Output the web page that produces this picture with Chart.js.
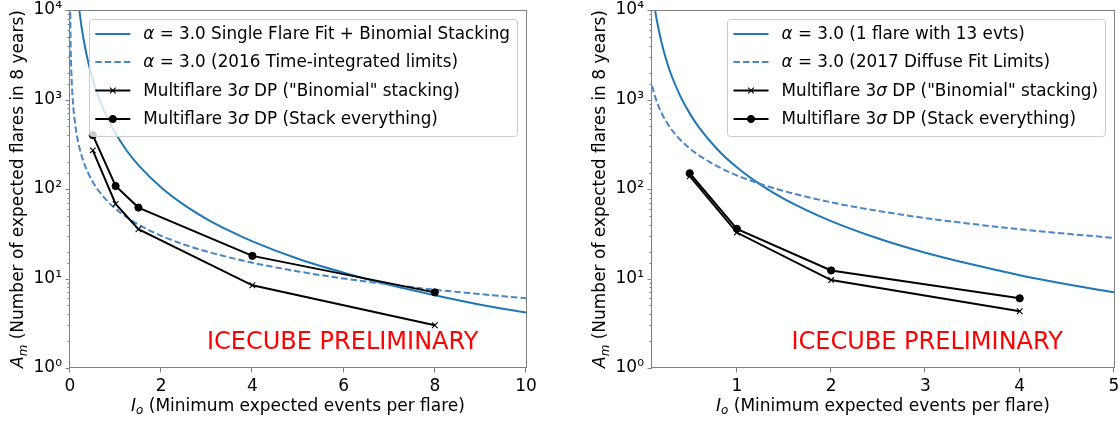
<!DOCTYPE html>
<html>
<head>
<meta charset="utf-8">
<script src="https://cdn.jsdelivr.net/npm/chart.js@4.4.0/dist/chart.umd.min.js"></script>
<style>
  html, body { margin: 0; padding: 0; background: #fff; }
  .panel { position: absolute; top: 0; width: 560px; height: 421px; }
  #left  { left: 0; }
  #right { left: 560px; }
</style>
</head>
<body>
<div class="panel" id="left"><canvas id="cl" width="560" height="421"></canvas></div>
<div class="panel" id="right"><canvas id="cr" width="560" height="421"></canvas></div>
<script>
const FONT = '"DejaVu Sans", sans-serif'

// shared y axis (log)
const yMajorValues = [1, 10, 100, 1000, 10000]
const yMajorLabels = ['10⁰', '10¹', '10²', '10³', '10⁴']

const yTitle = [{ t: 'A', it: 1 }, { t: 'm', it: 1, sub: 1 }, { t: ' (Number of expected flares in 8 years)' }]
const xTitle = [{ t: 'I', it: 1 }, { t: 'o', it: 1, sub: 1 }, { t: ' (Minimum expected events per flare)' }]
const watermark = 'ICECUBE PRELIMINARY'

// ---- left panel ----
const leftXTicks = [0, 2, 4, 6, 8, 10]
const leftLabels = [
  'α = 3.0 Single Flare Fit + Binomial Stacking',
  'α = 3.0 (2016 Time-integrated limits)',
  'Multiflare 3σ DP ("Binomial" stacking)',
  'Multiflare 3σ DP (Stack everything)'
]
const leftFitX = [0.2, 0.25, 0.3, 0.4, 0.5, 0.6, 0.7, 0.8, 1, 1.25, 1.5, 2, 2.5, 3, 3.5, 4, 5, 6, 7, 8, 9, 10]
const leftFitY = [10400, 6660, 4620, 2600, 1660, 1160, 850, 650, 416, 266, 185, 104, 66.5, 46.2, 34, 26, 16.6, 11.6, 8.5, 6.5, 5.1, 4.16]
const leftTiX  = [0.005, 0.01, 0.02, 0.03, 0.05, 0.075, 0.1, 0.15, 0.2, 0.3, 0.4, 0.5, 0.6, 0.8, 1, 1.25, 1.5, 2, 2.5, 3, 4, 5, 6, 7, 8, 9, 10]
const leftTiY  = [12000, 6000, 3000, 2000, 1200, 800, 600, 400, 300, 200, 150, 120, 100, 75, 60, 48, 40, 30, 24, 20, 15, 12, 10, 8.6, 7.5, 6.7, 6.0]
const leftDpX    = [0.5, 1, 1.5, 4, 8]
const leftBinomY = [270, 68, 35.5, 8.4, 3.0]
const leftStackY = [400, 108, 62, 17.9, 7.0]

// ---- right panel ----
const rightXTicks = [1, 2, 3, 4, 5]
const rightLabels = [
  'α = 3.0 (1 flare with 13 evts)',
  'α = 3.0 (2017 Diffuse Fit Limits)',
  'Multiflare 3σ DP ("Binomial" stacking)',
  'Multiflare 3σ DP (Stack everything)'
]
const rightOneX  = [0.13, 0.15, 0.2, 0.25, 0.3, 0.4, 0.5, 0.6, 0.8, 1, 1.25, 1.5, 2, 2.5, 3, 3.5, 4, 4.5, 5]
const rightOneY  = [10400, 7780, 4380, 2800, 1940, 1090, 700, 486, 273, 175, 112, 77.8, 43.8, 28, 19.4, 14.3, 10.9, 8.64, 7.0]
const rightDiffX = [0.1, 0.15, 0.2, 0.3, 0.4, 0.5, 0.6, 0.8, 1, 1.25, 1.5, 2, 2.5, 3, 3.5, 4, 4.5, 5]
const rightDiffY = [1420, 947, 710, 473, 355, 284, 237, 178, 142, 114, 94.7, 71, 56.8, 47.3, 40.6, 35.5, 31.6, 28.4]
const rightDpX    = [0.5, 1, 2, 4]
const rightBinomY = [139, 32.6, 9.6, 4.3]
const rightStackY = [150, 35.9, 12.3, 6.0]

const BLUE = '#1f77b4'
const BLUE_DASH = '#4a86c2'
const SPINE = '#808080'

const pts = (xs, ys) => xs.map((x, i) => ({ x, y: ys[i] }))
const isMajor = v => yMajorValues.some(m => Math.abs(v - m) / m < 1e-6)

// draw text, Greek letters in italic (like mathtext)
function richText(ctx, text, x, y, size, draw) {
  let cx = x
  for (const part of text.split(/([ασ])/)) {
    if (!part) continue
    ctx.font = (part === 'α' || part === 'σ' ? 'italic ' : '') + size + 'px ' + FONT
    if (draw) ctx.fillText(part, cx, y)
    cx += ctx.measureText(part).width
  }
  return cx - x
}

function segText(ctx, segs, x, y, size, draw) {
  let cx = x
  for (const s of segs) {
    const fs = s.sub ? size * 0.7 : size
    ctx.font = (s.it ? 'italic ' : '') + fs + 'px ' + FONT
    if (draw) ctx.fillText(s.t, cx, y + (s.sub ? size * 0.22 : 0))
    cx += ctx.measureText(s.t).width
  }
  return cx - x
}

const mplPlugin = {
  id: 'mpl',
  afterDatasetsDraw(chart, args, o) {
    const ctx = chart.ctx, a = chart.chartArea
    const xs = chart.scales.x, ys = chart.scales.y
    ctx.save()

    // watermark
    ctx.fillStyle = '#ff0000'
    ctx.font = '24px ' + FONT
    ctx.textAlign = 'left'
    ctx.textBaseline = 'alphabetic'
    ctx.fillText(watermark, a.left + o.markX, a.top + o.markY)

    // spines + tick marks
    ctx.strokeStyle = SPINE
    ctx.lineWidth = 1
    ctx.strokeRect(Math.round(a.left) - 0.5, Math.round(a.top) + 0.5, Math.round(a.width) + 1, Math.round(a.height) - 1)
    ctx.beginPath()
    for (const t of ys.ticks) {
      const p = Math.round(ys.getPixelForValue(t.value)) + 0.5
      const len = isMajor(t.value) ? 4.5 : 2.5
      ctx.moveTo(a.left - len, p); ctx.lineTo(a.left, p)
    }
    for (const t of xs.ticks) {
      const p = Math.round(xs.getPixelForValue(t.value)) - 0.5
      ctx.moveTo(p, a.bottom); ctx.lineTo(p, a.bottom + 4.5)
    }
    ctx.stroke()

    // legend (upper right, matplotlib style)
    const fs = 16.8
    const dss = chart.data.datasets
    let maxW = 0
    for (const ds of dss) maxW = Math.max(maxW, richText(ctx, ds.label, 0, 0, fs, false))
    const textX = 54.5
    const w = textX + maxW + 7
    const h = 117
    const bx = a.right - 9 - w, by = a.top + 9
    ctx.fillStyle = 'rgba(255,255,255,0.8)'
    ctx.strokeStyle = '#cccccc'
    ctx.beginPath()
    ctx.roundRect(Math.round(bx) + 0.5, Math.round(by) + 0.5, Math.round(w), h, 3)
    ctx.fill(); ctx.stroke()
    const rowY = [15, 43, 71.5, 100]
    dss.forEach((ds, i) => {
      const y = by + rowY[i]
      const sx = bx + 6.5
      ctx.strokeStyle = ds.borderColor
      ctx.lineWidth = ds.borderWidth
      ctx.setLineDash(ds.borderDash || [])
      ctx.beginPath(); ctx.moveTo(sx, y); ctx.lineTo(sx + 35, y); ctx.stroke()
      ctx.setLineDash([])
      if (ds.pointRadius > 0) {
        ctx.fillStyle = ds.pointBackgroundColor
        ctx.strokeStyle = ds.pointBorderColor
        ctx.lineWidth = ds.pointBorderWidth
        Chart.helpers.drawPoint(ctx, { pointStyle: ds.pointStyle, radius: ds.pointRadius, borderWidth: ds.pointBorderWidth, rotation: 0 }, sx + 17.5, y)
      }
      ctx.fillStyle = '#000'
      ctx.textBaseline = 'middle'
      richText(ctx, ds.label, bx + textX, y + 1, fs, true)
    })

    // axis titles
    const ts = 17
    ctx.fillStyle = '#000'
    ctx.textBaseline = 'alphabetic'
    const xw = segText(ctx, xTitle, 0, 0, ts, false)
    segText(ctx, xTitle, (a.left + a.right) / 2 - xw / 2, a.bottom + 42.5, ts, true)
    const yw = segText(ctx, yTitle, 0, 0, ts, false)
    ctx.translate(a.left - 47, (a.top + a.bottom) / 2)
    ctx.rotate(-Math.PI / 2)
    segText(ctx, yTitle, -yw / 2, 0, ts, true)
    ctx.restore()
  }
}

function makeChart(id, p) {
  const datasets = [
    { label: p.labels[0], data: pts(p.fitX, p.fitY), borderColor: BLUE, borderWidth: 2, pointRadius: 0,
      cubicInterpolationMode: 'monotone', order: 4 },
    { label: p.labels[1], data: pts(p.dashX, p.dashY), borderColor: BLUE_DASH, borderWidth: 2, borderDash: [6.5, 3],
      pointRadius: 0, cubicInterpolationMode: 'monotone', order: 3 },
    { label: p.labels[2], data: pts(p.dpX, p.binomY), borderColor: '#000', borderWidth: 2, tension: 0,
      pointStyle: 'crossRot', pointRadius: 4, pointBorderWidth: 1.1, pointBorderColor: '#000', pointBackgroundColor: '#000', order: 2 },
    { label: p.labels[3], data: pts(p.dpX, p.stackY), borderColor: '#000', borderWidth: 2, tension: 0,
      pointStyle: 'circle', pointRadius: 3.6, pointBorderWidth: 1, pointBorderColor: '#000', pointBackgroundColor: '#000', order: 1 }
  ]
  return new Chart(document.getElementById(id), {
    type: 'line',
    data: { datasets },
    plugins: [mplPlugin],
    options: {
      responsive: false, animation: false, devicePixelRatio: 1,
      layout: { padding: { top: 10, right: p.padRight, left: 0, bottom: 0 } },
      plugins: {
        legend: { display: false },
        tooltip: { enabled: false },
        mpl: { markX: p.markX, markY: 339 }
      },
      scales: {
        x: {
          type: 'linear', min: p.xMin, max: p.xMax,
          grid: { display: false, drawTicks: false, tickLength: 0 },
          border: { display: false },
          ticks: { color: '#000', font: { family: FONT, size: 17 }, padding: 8, autoSkip: false, maxRotation: 0 },
          afterBuildTicks: s => { s.ticks = p.xTicks.map(v => ({ value: v })) },
          afterFit: s => { s.height = 53; s.paddingLeft = 0; s.paddingRight = 0 }
        },
        y: {
          type: 'logarithmic', min: 1, max: 10000,
          grid: { display: false, drawTicks: false, tickLength: 0 },
          border: { display: false },
          ticks: {
            color: '#000', font: { family: FONT, size: 17 }, padding: 8, autoSkip: false,
            callback: v => { const i = yMajorValues.findIndex(m => Math.abs(v - m) / m < 1e-6); return i >= 0 ? yMajorLabels[i] : '' }
          },
          afterFit: s => { s.width = p.yWidth; s.paddingTop = 0; s.paddingBottom = 0 }
        }
      }
    }
  })
}

makeChart('cl', {
  labels: leftLabels, xMin: 0, xMax: 10, xTicks: leftXTicks,
  fitX: leftFitX, fitY: leftFitY, dashX: leftTiX, dashY: leftTiY,
  dpX: leftDpX, binomY: leftBinomY, stackY: leftStackY,
  yWidth: 70, padRight: 34, markX: 137
})

makeChart('cr', {
  labels: rightLabels, xMin: 0.1, xMax: 5, xTicks: rightXTicks,
  fitX: rightOneX, fitY: rightOneY, dashX: rightDiffX, dashY: rightDiffY,
  dpX: rightDpX, binomY: rightBinomY, stackY: rightStackY,
  yWidth: 92, padRight: 6, markX: 139.5
})
</script>
</body>
</html>
